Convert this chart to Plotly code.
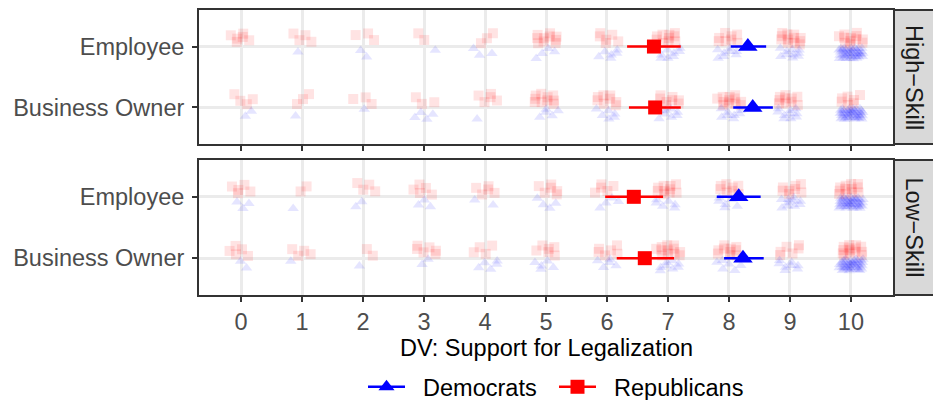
import plotly.graph_objects as go

# ---------------- data ----------------
scale_vals = [0, 1, 2, 3, 4, 5, 6, 7, 8, 9, 10]
occupations = ["Employee", "Business Owner"]
skills = ["High−Skill", "Low−Skill"]
parties = ["Democrats", "Republicans"]

# number of respondents giving each scale value (read from the jittered clouds)
hs_emp_rep = [6, 4, 3, 2, 3, 10, 6, 10, 8, 12, 12]
hs_emp_dem = [0, 1, 2, 1, 3, 4, 6, 8, 8, 10, 40]
hs_own_rep = [4, 3, 3, 3, 5, 10, 8, 8, 12, 10, 7]
hs_own_dem = [2, 1, 1, 4, 1, 5, 6, 8, 8, 10, 40]
ls_emp_rep = [5, 2, 4, 5, 5, 6, 5, 10, 8, 8, 12]
ls_emp_dem = [3, 1, 2, 3, 2, 4, 4, 6, 6, 10, 40]
ls_own_rep = [5, 4, 2, 6, 4, 6, 6, 12, 10, 6, 14]
ls_own_dem = [2, 1, 1, 2, 5, 5, 5, 8, 6, 8, 40]

# estimates, order: [High-Employee, High-Owner, Low-Employee, Low-Owner]
rep_mean = [6.77, 6.79, 6.44, 6.62]
rep_lo = [6.33, 6.36, 5.97, 6.16]
rep_hi = [7.21, 7.21, 6.92, 7.10]
dem_mean = [8.31, 8.39, 8.16, 8.23]
dem_lo = [8.03, 8.07, 7.80, 7.92]
dem_hi = [8.61, 8.72, 8.52, 8.57]

# ---------------- layout constants ----------------
W, H = 933, 400
PX0, PX1 = 199, 893
PANELS = [(10, 144), (160, 295)]
FONT = "Liberation Sans, Arial, sans-serif"
FS = 23.5
RED = "#ff0000"
BLUE = "#0000ff"

occ_y = {"Employee": 2, "Business Owner": 1}

A1, A2 = 0.7548776662, 0.5698402910  # R2 low-discrepancy sequence constants


def jitter(n, seed, center, spread_y):
    """Deterministic low-discrepancy spread used only for display."""
    dxs, dys = [], []
    for i in range(n):
        u = (0.5 + (i + 1) * A1 + seed * 0.3137) % 1.0
        v = (0.5 + (i + 1) * A2 + seed * 0.5791) % 1.0
        dxs.append((u - 0.5) * 0.4)
        dys.append(center + (v - 0.5) * spread_y)
    return dxs, dys


fig = go.Figure()

groups = [
    (0, "Employee", hs_emp_rep, hs_emp_dem),
    (0, "Business Owner", hs_own_rep, hs_own_dem),
    (1, "Employee", ls_emp_rep, ls_emp_dem),
    (1, "Business Owner", ls_own_rep, ls_own_dem),
]

axes = [("x", "y"), ("x2", "y2")]

seed = 0
for panel, occ, reps, dems in groups:
    xa, ya = axes[panel]
    for party_counts, col, sym, center, size in [
        (reps, "rgba(255,0,0,0.11)", "square", 0.13, 10),
        (dems, "rgba(0,0,255,0.10)", "triangle-up", -0.11, 10),
    ]:
        xs, ys = [], []
        for val, cnt in zip(scale_vals, party_counts):
            seed += 1
            dx, dy = jitter(cnt, seed, center, 0.19)
            xs += [val + d for d in dx]
            ys += [occ_y[occ] + d for d in dy]
        fig.add_trace(go.Scatter(
            x=xs, y=ys, xaxis=xa, yaxis=ya, mode="markers",
            marker=dict(symbol=sym, size=size, color=col, line=dict(width=0)),
            showlegend=False, hoverinfo="skip"))

# estimates with CIs
for k, (panel, occ, _, _) in enumerate(groups):
    xa, ya = axes[panel]
    for m, lo, hi, col, sym, size in [
        (rep_mean, rep_lo, rep_hi, RED, "square", 14),
        (dem_mean, dem_lo, dem_hi, BLUE, "triangle-up", 17),
    ]:
        fig.add_trace(go.Scatter(
            x=[m[k]], y=[occ_y[occ]], xaxis=xa, yaxis=ya, mode="markers",
            marker=dict(symbol=sym, size=size, color=col, line=dict(width=0)),
            error_x=dict(type="data", symmetric=False,
                         array=[hi[k] - m[k]], arrayminus=[m[k] - lo[k]],
                         color=col, thickness=2.5, width=0),
            showlegend=False))

# legend entries
for name, col, sym in [("Democrats", BLUE, "triangle-up"), ("Republicans", RED, "square")]:
    fig.add_trace(go.Scatter(
        x=[None], y=[None], mode="lines+markers", name="\u00a0\u00a0" + name,
        line=dict(color=col, width=2.5),
        marker=dict(symbol=sym, size=14, color=col)))

xdom = [PX0 / W, PX1 / W]


def ydom(p):
    t, b = PANELS[p]
    return [(H - b) / H, (H - t) / H]


common_x = dict(range=[-0.69, 10.69], tickvals=scale_vals, ticktext=[str(v) for v in scale_vals],
                showgrid=True, gridcolor="#ebebeb", gridwidth=2.5, zeroline=False,
                showline=True, linecolor="#333333", linewidth=2, mirror=True,
                ticks="outside", ticklen=5, tickwidth=1.5, tickcolor="#333333",
                tickfont=dict(family=FONT, size=FS, color="#4d4d4d"), domain=xdom)
common_y = dict(range=[0.4, 2.6], tickvals=[1, 2], ticktext=["Business Owner", "Employee"],
                showgrid=True, gridcolor="#ebebeb", gridwidth=2.5, zeroline=False,
                showline=True, linecolor="#333333", linewidth=2, mirror=True,
                ticks="outside", ticklen=5, tickwidth=1.5, tickcolor="#333333",
                ticklabelstandoff=3,
                tickfont=dict(family=FONT, size=FS, color="#4d4d4d"))

fig.update_layout(
    width=W, height=H, margin=dict(l=0, r=0, t=0, b=0, autoexpand=False),
    paper_bgcolor="white", plot_bgcolor="white",
    xaxis=dict(common_x, anchor="y", showticklabels=False),
    xaxis2=dict(common_x, anchor="y2", matches="x"),
    yaxis=dict(common_y, anchor="x", domain=ydom(0)),
    yaxis2=dict(common_y, anchor="x2", domain=ydom(1)),
    showlegend=True,
    legend=dict(orientation="h", x=(368 - 5) / W, xanchor="left", y=(H - 387) / H, yanchor="middle",
                font=dict(family=FONT, size=FS, color="black"), bgcolor="rgba(0,0,0,0)",
                itemwidth=37, borderwidth=0, tracegroupgap=0,
                entrywidth=139, entrywidthmode="pixels"),
)

# facet strips
for p, lab in enumerate(skills):
    y0, y1 = ydom(p)
    fig.add_shape(type="rect", xref="paper", yref="paper", x0=894 / W, x1=1.01,
                  y0=y0, y1=y1, fillcolor="#d9d9d9", line=dict(color="#333333", width=2), layer="below")
    fig.add_annotation(xref="paper", yref="paper", x=914 / W, y=(y0 + y1) / 2, text=lab,
                       textangle=90, showarrow=False, xanchor="center", yanchor="middle",
                       font=dict(family=FONT, size=FS, color="#1a1a1a"))

# x axis title
fig.add_annotation(xref="paper", yref="paper", x=(PX0 + PX1) / 2 / W, y=(H - 348) / H,
                   text="DV: Support for Legalization", showarrow=False,
                   xanchor="center", yanchor="middle",
                   font=dict(family=FONT, size=FS, color="black"))

fig.write_html("out.html")
